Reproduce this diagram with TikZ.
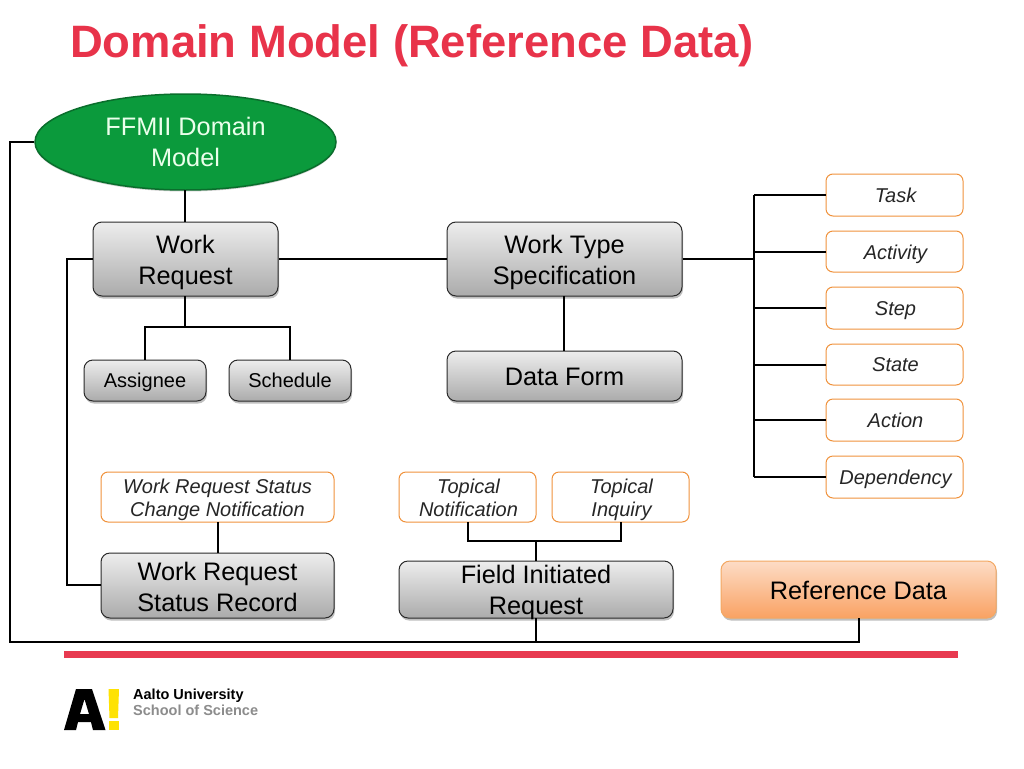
\documentclass[tikz,border=0pt]{standalone}
\usepackage{fontspec}
\setmainfont{Liberation Sans}
\usetikzlibrary{shapes.geometric,shadows}
\definecolor{aaltored}{HTML}{E8334A}
\definecolor{barred}{HTML}{E83A50}
\definecolor{boxline}{HTML}{2A2A2A}
\definecolor{orangeline}{HTML}{F0923C}
\definecolor{ovalgreen}{HTML}{0B9A3C}
\definecolor{ovalline}{HTML}{0A6E2C}
\definecolor{reftop}{HTML}{FDDCC6}
\definecolor{refbottom}{HTML}{F9A263}
\newcommand{\lowr}[1]{\rule{0pt}{#1pt}}
\tikzset{
  softshadow/.style={drop shadow={shadow xshift=1pt,shadow yshift=-2.5pt,opacity=.25,fill=black}},
  greybox/.style={draw=boxline,line width=1pt,rounded corners=9pt,top color=white!93!black,bottom color=black!33,
    softshadow,inner sep=0pt,align=center,text=black},
  bigtext/.style={font=\fontsize{25.3}{31}\selectfont},
  smalltext/.style={font=\fontsize{20}{25}\selectfont},
  tagbox/.style={draw=orangeline,line width=1pt,rounded corners=7pt,fill=white,inner sep=0pt,align=center,text=black!85,
    font=\fontsize{20}{23}\selectfont\itshape},
  refbox/.style={draw=orangeline!80!white,line width=1pt,rounded corners=9pt,top color=reftop,bottom color=refbottom,
    softshadow,inner sep=0pt,align=center,text=black},
  wire/.style={draw=black,line width=1.3pt},
  sized/.style 2 args={minimum width=#1pt,minimum height=#2pt}
}
\begin{document}
\begin{tikzpicture}[x=1pt,y=-1pt]
\useasboundingbox (0,0) rectangle (1024,768);
\fill[white] (0,0) rectangle (1024,768);

\node[anchor=base west,inner sep=0pt,text=aaltored,font=\fontsize{45.4}{46}\selectfont\bfseries] (title) at (70,58) {Domain Model (Reference Data)};

\node[ellipse,draw=ovalline,line width=1.5pt,fill=ovalgreen,sized={301}{96},inner sep=0pt,align=center,text=white!92!green,
  font=\fontsize{25.3}{31}\selectfont,drop shadow={shadow xshift=0pt,shadow yshift=-1.5pt,opacity=.2,fill=black}] (ffmii) at (185.5,142) {\lowr{19}FFMII Domain\\Model};

\node[greybox,bigtext,sized={185}{74}] (wr) at (185.5,259) {\lowr{25}Work\\Request};
\node[greybox,bigtext,sized={235}{74}] (wts) at (564.5,259) {\lowr{25}Work Type\\Specification};
\node[greybox,smalltext,sized={122}{41}] (assignee) at (145,380.5) {\lowr{14}\smash{Assignee}};
\node[greybox,smalltext,sized={122}{41}] (schedule) at (290,380.5) {\lowr{14}\smash{Schedule}};
\node[greybox,bigtext,sized={235}{50}] (dataform) at (564.5,376) {\lowr{20}Data Form};

\node[tagbox,sized={137}{42}] (task) at (894.5,195) {\lowr{15}\smash{\hspace{2pt}Task}};
\node[tagbox,sized={137}{41}] (activity) at (894.5,251.5) {\lowr{15}\smash{\hspace{2pt}Activity}};
\node[tagbox,sized={137}{42}] (stepn) at (894.5,308) {\lowr{15}\smash{\hspace{2pt}Step}};
\node[tagbox,sized={137}{41}] (staten) at (894.5,364.5) {\lowr{14}\smash{\hspace{2pt}State}};
\node[tagbox,sized={137}{42}] (action) at (894.5,420) {\lowr{15}\smash{\hspace{2pt}Action}};
\node[tagbox,sized={137}{42}] (depend) at (894.5,477) {\lowr{15}\smash{\hspace{2pt}Dependency}};

\node[tagbox,sized={233}{50}] (wrsc) at (217.5,497) {\lowr{20}Work Request Status\\Change Notification};
\node[tagbox,sized={137}{50}] (tnot) at (467.5,497) {\lowr{17}\hspace{2pt}Topical\\\hspace{2pt}Notification};
\node[tagbox,sized={137}{50}] (tinq) at (620.5,497) {\lowr{21}\hspace{2pt}Topical\\\hspace{2pt}Inquiry};

\node[greybox,bigtext,sized={233}{65}] (wsr) at (217.5,585.5) {\lowr{22}Work Request\\Status Record};
\node[greybox,bigtext,sized={274}{57}] (fir) at (536,589.5) {\raisebox{-10pt}[0pt][0pt]{\begin{tabular}[c]{@{}c@{}}Field Initiated\\Request\end{tabular}}};
\node[refbox,bigtext,sized={275}{57}] (refd) at (858.5,589.5) {\lowr{20}Reference Data};

\coordinate (cornerA) at (10,142);
\coordinate (cornerB) at (10,642);
\coordinate (cornerC) at (67,259);
\coordinate (cornerD) at (67,585);
\coordinate (joinWR) at (185,327);
\coordinate (trunkTop) at (754,195);
\coordinate (trunkMid) at (754,259);
\coordinate (joinFI) at (536,541);
\coordinate (joinLow) at (536,642);
\coordinate (cornerE) at (859,642);

\begin{scope}[wire]
\draw (ffmii.west) -- (cornerA) -- (cornerB) -- (cornerE) -- (859,618);
\draw (wr.west) -- (cornerC) -- (cornerD) -- (wsr.west |- cornerD);
\draw (wr.east) -- (wts.west);
\draw (185,190) -- (185,222);
\draw (185,296) -- (joinWR);
\draw (assignee.north) |- (joinWR) -| (schedule.north);
\draw (564,296) -- (564,351);
\draw (wts.east) -- (trunkMid);
\draw (trunkTop) -- (754,477);
\draw (task.west) -- (trunkTop);
\draw (826,252) -- (754,252);
\draw (826,308) -- (754,308);
\draw (826,365) -- (754,365);
\draw (826,420) -- (754,420);
\draw (826,477) -- (754,477);
\draw (218,522) -- (218,553);
\draw (468,522) |- (joinFI) -| (621,522);
\draw (joinFI) -- (536,561);
\draw (536,618) -- (joinLow);
\end{scope}

\fill[barred] (64,651) rectangle (958,658);

% logo
\fill[black,even odd rule] (64,730) -- (76,689) -- (92,689) -- (105.5,730) -- (93,730) -- (91,722) -- (78,722) -- (76,730) -- cycle
  (80,714) -- (89,714) -- (84.5,699) -- cycle;
\fill[yellow!85!orange] (108.5,689) -- (119,689) -- (118,718) -- (109.5,718) -- cycle;
\fill[yellow!85!orange] (109,721) rectangle (119,730);
\node[anchor=base west,inner sep=0pt,font=\fontsize{14.5}{15}\selectfont\bfseries,text=black] (logoa) at (133,699) {Aalto University};
\node[anchor=base west,inner sep=0pt,font=\fontsize{14.5}{15}\selectfont\bfseries,text=black!45] (logob) at (133,715) {School of Science};
\end{tikzpicture}
\end{document}
